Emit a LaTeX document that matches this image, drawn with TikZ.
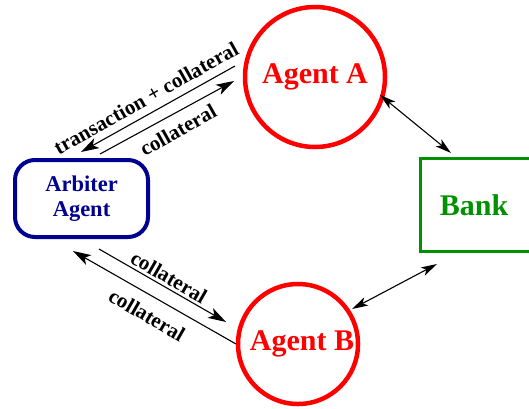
\documentclass[tikz,border=0pt]{standalone}
\usepackage{fontspec}
\setmainfont{Liberation Serif}
\usetikzlibrary{arrows.meta}
\definecolor{agentred}{RGB}{255,0,0}
\definecolor{arbnavy}{RGB}{0,0,145}
\definecolor{bankgreen}{RGB}{0,145,0}
\begin{document}
\begin{tikzpicture}[x=1pt,y=-1pt,
  agent/.style={circle,draw=agentred,line width=4.5pt,inner sep=0pt,text=agentred,
    font=\fontsize{30}{36}\selectfont\bfseries},
  arbiter/.style={rectangle,rounded corners=20pt,draw=arbnavy,line width=4pt,text=arbnavy,
    minimum width=133pt,minimum height=77pt,align=center,inner sep=0pt,
    font=\fontsize{22.5}{25}\selectfont\bfseries},
  bankbox/.style={rectangle,draw=bankgreen,line width=3.5pt,text=bankgreen,
    minimum width=117pt,minimum height=93pt,inner sep=0pt,
    font=\fontsize{30}{36}\selectfont\bfseries},
  flow/.style={line width=1.1pt,-{Stealth[length=18pt,width=11pt,inset=4.5pt]}},
  link/.style={line width=1.1pt,{Stealth[length=16pt,width=9pt,inset=4pt]}-{Stealth[length=16pt,width=9pt,inset=4pt]}},
  lbl/.style={font=\fontsize{21}{24}\selectfont\bfseries,inner sep=0pt}
]
\useasboundingbox (0,0) rectangle (529,408);
\node[agent,minimum size=140pt] (A) at (315,77) {\raisebox{-3pt}{Agent A}};
\node[agent,minimum size=120pt] (B) at (298,344) {\hspace*{8pt}\raisebox{-5pt}{Agent B}};
\node[arbiter] (arb) at (81.5,198.5) {Arbiter\\Agent};
\node[bankbox] (bank) at (479,205) {Bank\hspace*{10pt}};

\coordinate (t1s) at (235,66);
\coordinate (t1e) at (81,152);
\coordinate (t2s) at (100,154);
\coordinate (t2e) at (234,81);
\coordinate (b1s) at (99,249);
\coordinate (b1e) at (226,322);
\coordinate (b2s) at (236,344);
\coordinate (b2e) at (73,251);
\coordinate (k1s) at (380,95);
\coordinate (k1e) at (451,153);
\coordinate (k2s) at (437,264);
\coordinate (k2e) at (352,309);

\draw[flow] (t1s) -- (t1e);
\draw[flow] (t2s) -- (t2e);
\draw[flow] (b1s) -- (b1e);
\draw[flow] (b2s) -- (b2e);
\draw[link] (k1s) -- (k1e);
\draw[link] (k2s) -- (k2e);

\node[lbl,rotate=29.3] (l1) at (146,98) {transaction + collateral};
\node[lbl,rotate=29.3] (l2) at (178,130) {collateral};
\node[lbl,rotate=-30] (l3) at (169,277) {collateral};
\node[lbl,rotate=-30] (l4) at (147,315) {collateral};
\end{tikzpicture}
\end{document}
